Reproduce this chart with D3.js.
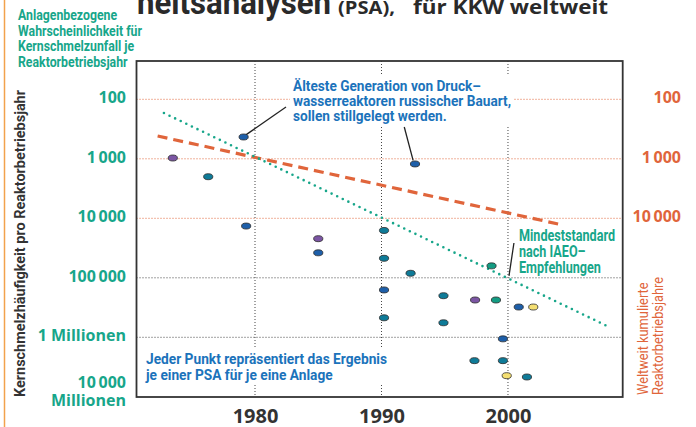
<!DOCTYPE html>
<html lang="de">
<head>
<meta charset="UTF-8">
<title>PSA weltweit</title>
<script src="https://cdn.jsdelivr.net/npm/d3@7"></script>
<style>
    body{margin:0;background:#fff}
    svg text{font-family:Roboto,"Noto Sans",sans-serif}
    .num{font-family:"Open Sans","Noto Sans",sans-serif !important;font-weight:700}
</style>
</head>
<body>
<div class="chart"></div>
<script>
    //data - year of the PSA and core damage frequency as "once in N reactor years"
    const psaYear=[1973.5,1976.3,1979.1,1979.3,1985.0,1985.0,1990.2,1990.2,1992.65,1992.3,1990.2,1990.2,
        1994.9,1994.9,1997.4,1999.05,1998.7,2000.85,2002.0,1999.6,1997.35,1999.6,1999.9,2001.5]
    const psaFreq=[970,2000,430,13500,22000,38000,16000,47000,1220,84000,160000,470000,
        200000,570000,236000,236000,63000,310000,310000,1.3e6,5.1e7,5.1e7,6.4e8,8e8]
    const psaGroup=['violett','petrol','blau','blau','violett','blau','petrol','petrol','blau','petrol','blau','petrol',
        'petrol','petrol','violett','gruen','gruen','blau','gelb','blau','petrol','petrol','gelb','petrol']

    //trend lines
    const iaeaYears=[1972.8,2008.0]
    const iaeaFreq=[170,671000]
    const cumYears=[1972.3,2004.0]
    const cumReactorYears=[414,12500]

    //ticks
    const xTicks=[1980,1990,2000]
    const yTicks=[100,1000,10000,100000,1e6,1e10]
    const yTickLabels=['100','1\u2009000','10\u2009000','100\u2009000','1 Millionen','10\u2009000|Millionen']
    const rightTicks=[100,1000,10000]
    const rightTickLabels=['100','1\u2009000','10\u2009000']
    const orangeGrid=[100,1000,10000]
    const greyGrid=[100000,1e6]

    const W=696,H=427
    const plot={left:136.5,top:61,right:622.7,bottom:397}
    const teal='#17a68a',orange='#e0653b',blue='#1b73bb',dark='#333'

    let xScale=d3.scaleLinear().domain([1970.63,2009.07]).range([plot.left,plot.right])
    // axis is squeezed below one million, so the scale is piecewise
    let yScale=d3.scaleLog().domain([100,1e6,1e10]).range([99.3,337.3,392])
    let color=d3.scaleOrdinal().domain(['blau','petrol','violett','gruen','gelb'])
        .range(['#1e5fa9','#0f7b98','#7b55a3','#139c83','#f4df72'])

    let svg=d3.select('.chart').append('svg').attr('width',W).attr('height',H)

    // squeeze lines of a text to a given width (the original uses a condensed face)
    function fit(sel,target){
        let nodes=sel.selectAll('tspan').nodes()
        if(!nodes.length) nodes=[sel.node()]
        let r=target/d3.max(nodes,n=>n.getComputedTextLength())
        nodes.forEach(n=>{
            n.setAttribute('textLength',n.getComputedTextLength()*r)
            n.setAttribute('lengthAdjust','spacingAndGlyphs')
        })
        return sel
    }

    //page decoration + title
    svg.append('line').attr('x1',4.5).attr('x2',4.5).attr('y1',0).attr('y2',H)
        .attr('stroke','#f2a24c').attr('stroke-width',1.5)
    let t1=svg.append('text').attr('x',137).attr('y',14).attr('fill','#2a2a2a').attr('font-weight',700)
        .attr('font-size',33).text('heitsanalysen')
    fit(t1,194)
    let t2=svg.append('text').attr('x',338).attr('y',14).attr('class','num').attr('fill','#2a2a2a')
        .attr('font-size',17).attr('font-weight',600).text('(PSA),')
    fit(t2,57)
    let t3=svg.append('text').attr('x',413).attr('y',14).attr('class','num').attr('fill','#2a2a2a')
        .attr('font-size',20).text('für KKW weltweit')
    fit(t3,195)

    let head=svg.append('text').attr('fill',teal).attr('font-size',14.5).attr('font-weight',700)
    ;['Anlagenbezogene','Wahrscheinlichkeit für','Kernschmelzunfall je','Reaktorbetriebsjahr'].forEach((t,i)=>
        head.append('tspan').attr('x',18).attr('y',20+i*15.7).text(t))
    fit(head,124)

    //grid
    let g=svg.append('g')
    g.selectAll('.og').data(orangeGrid).join('line').attr('class','og')
        .attr('x1',plot.left).attr('x2',plot.right).attr('y1',d=>yScale(d)).attr('y2',d=>yScale(d))
        .attr('stroke',orange).attr('stroke-dasharray','1,2')
    g.selectAll('.gg').data(greyGrid).join('line').attr('class','gg')
        .attr('x1',plot.left).attr('x2',plot.right).attr('y1',d=>yScale(d)).attr('y2',d=>yScale(d))
        .attr('stroke','#444').attr('stroke-dasharray','1,2')
    g.selectAll('.vg').data(xTicks).join('line').attr('class','vg')
        .attr('x1',d=>xScale(d)).attr('x2',d=>xScale(d)).attr('y1',plot.top).attr('y2',plot.bottom)
        .attr('stroke','#444').attr('stroke-dasharray','1,2')

    //text boxes with white background
    function note(lines,x,y0,lh,fill,size,width){
        let bg=svg.append('rect').attr('fill','#fff')
        let t=svg.append('text').attr('fill',fill).attr('font-size',size).attr('font-weight',700)
        lines.forEach((l,i)=>t.append('tspan').attr('x',x).attr('y',y0+i*lh).text(l))
        fit(t,width)
        let b=t.node().getBBox()
        bg.attr('x',b.x-3).attr('y',b.y-1).attr('width',b.width+6).attr('height',b.height+1)
        return t
    }
    note(['Älteste Generation von Druck–','wasserreaktoren russischer Bauart,','sollen stillgelegt werden.'],293,91,15,blue,15.5,218)
    note(['Jeder Punkt repräsentiert das Ergebnis','je einer PSA für je eine Anlage'],146,364,16,blue,15.5,241)
    note(['Mindeststandard','nach IAEO–','Empfehlungen'],519,241,16,teal,16,96)

    //leader lines (data coordinates)
    const leaders=[[[1982.45,135],[1979.25,400]],[[1991.8,292],[1992.5,1060]],[[2000.47,26000],[2000.08,93000]]]
    svg.selectAll('.leader').data(leaders).join('line').attr('class','leader')
        .attr('x1',d=>xScale(d[0][0])).attr('y1',d=>yScale(d[0][1]))
        .attr('x2',d=>xScale(d[1][0])).attr('y2',d=>yScale(d[1][1]))
        .attr('stroke','#222').attr('stroke-width',1.3)

    //trend lines
    let line=d3.line().x(d=>xScale(d[0])).y(d=>yScale(d[1]))
    svg.append('path').datum(cumYears.map((d,i)=>[d,cumReactorYears[i]])).attr('d',line)
        .attr('fill','none').attr('stroke',orange).attr('stroke-width',3.2).attr('stroke-dasharray','10,6')
    svg.append('path').datum(iaeaYears.map((d,i)=>[d,iaeaFreq[i]])).attr('d',line)
        .attr('fill','none').attr('stroke',teal).attr('stroke-width',2.6)
        .attr('stroke-linecap','round').attr('stroke-dasharray','0,6.2')

    //points
    svg.selectAll('ellipse').data(psaYear).join('ellipse')
        .attr('cx',d=>xScale(d)).attr('cy',(d,i)=>yScale(psaFreq[i]))
        .attr('rx',4.6).attr('ry',3).attr('fill',(d,i)=>color(psaGroup[i]))
        .attr('stroke','#2a2a2a').attr('stroke-width',0.8)

    //frame
    svg.append('rect').attr('x',plot.left).attr('y',plot.top)
        .attr('width',plot.right-plot.left).attr('height',plot.bottom-plot.top)
        .attr('fill','none').attr('stroke',dark).attr('stroke-width',1.8)

    //axes
    let xAxis=d3.axisBottom(xScale).tickValues(xTicks).tickFormat(d3.format('d')).tickSize(0).tickPadding(12)
    let xa=svg.append('g').attr('transform','translate(0,'+plot.bottom+')').call(xAxis)
    xa.select('.domain').remove()
    xa.selectAll('text').attr('class','num').attr('font-size',20).attr('fill','#333')

    let yAxis=d3.axisLeft(yScale).tickValues(yTicks).tickFormat((d,i)=>yTickLabels[i]).tickSize(0).tickPadding(10.5)
    let ya=svg.append('g').attr('transform','translate('+plot.left+',0)').call(yAxis)
    ya.select('.domain').remove()
    ya.selectAll('text').attr('class','num').attr('font-size',16).attr('fill',teal).attr('dy','0.2em')
        .each(function(){
            let s=d3.select(this),parts=s.text().split('|')
            if(parts.length>1){
                s.text(null).attr('dy',null)
                s.append('tspan').attr('x',-10.5).attr('y',-4.5).text(parts[0])
                s.append('tspan').attr('x',-10.5).attr('y',13.7).text(parts[1])
            }
        })

    let rAxis=d3.axisRight(yScale).tickValues(rightTicks).tickFormat((d,i)=>rightTickLabels[i]).tickSize(0)
    let ra=svg.append('g').attr('transform','translate(681,0)').call(rAxis)
    ra.select('.domain').remove()
    ra.selectAll('text').attr('class','num').attr('font-size',16).attr('fill',orange)
        .attr('text-anchor','end').attr('x',0).attr('dy','0.2em')

    //axis titles
    let lt=svg.append('text').attr('transform','translate(24.5,397) rotate(-90)')
        .attr('font-size',15).attr('font-weight',700).attr('fill',dark)
        .text('Kernschmelzhäufigkeit pro Reaktorbetriebsjahr')
    fit(lt,307)
    let rt=svg.append('text').attr('transform','translate(0,395) rotate(-90)')
        .attr('font-size',14.5).attr('fill',orange)
    rt.append('tspan').attr('x',0).attr('y',648).text('Weltweit kumulierte')
    rt.append('tspan').attr('x',0).attr('y',663).text('Reaktorbetriebsjahre')
    fit(rt,118)
</script>
</body>
</html>
